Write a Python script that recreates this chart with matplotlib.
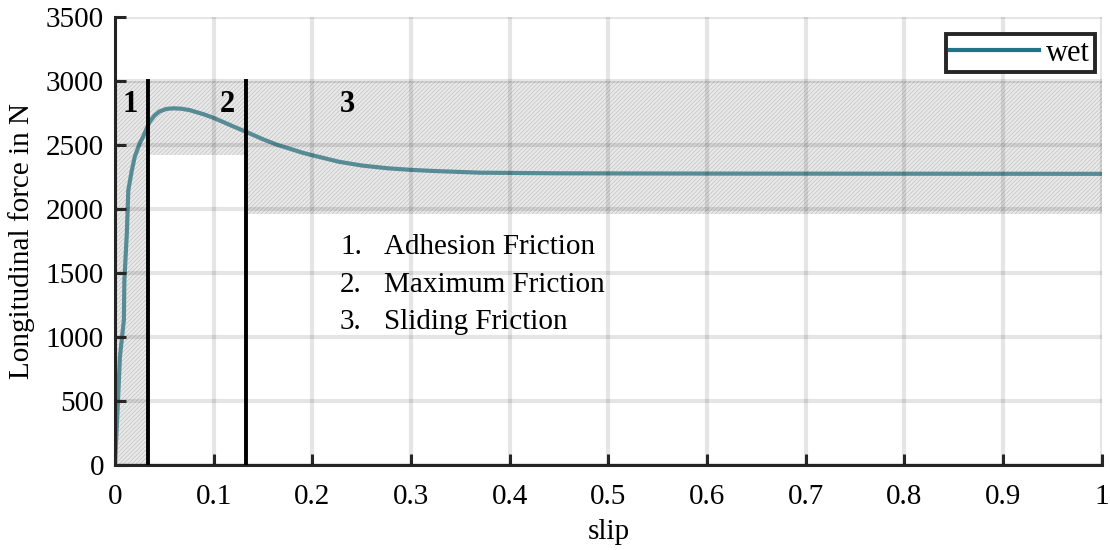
import matplotlib.pyplot as plt
import numpy as np

# wet curve
slip = [0, 0.003, 0.005, 0.009, 0.0095, 0.012, 0.0135, 0.017, 0.02, 0.025, 0.0285,
        0.035, 0.04, 0.045, 0.052, 0.059, 0.067, 0.0755, 0.09, 0.1, 0.109, 0.12,
        0.1326, 0.15, 0.165, 0.176, 0.19, 0.2, 0.215, 0.2266, 0.25, 0.277, 0.3,
        0.324, 0.37, 0.45, 0.6, 0.8, 1.0]
force = [0, 500, 846, 1133, 1445, 1812, 2148, 2300, 2408, 2513, 2565,
         2680, 2730, 2762, 2782, 2787, 2784, 2773, 2740, 2712, 2682, 2645,
         2604, 2545, 2500, 2474, 2440, 2420, 2392, 2370, 2340, 2318, 2306,
         2297, 2284, 2279, 2277, 2276, 2275]

# zones: (x start, x end, y low, y high)
zones = [(0, 0.033, 0, 3000), (0.033, 0.133, 2420, 3000), (0.133, 1.0, 1960, 3000)]
borders = [0.033, 0.133]
zone_labels = ["1", "2", "3"]
zone_label_x = [0.015, 0.114, 0.235]
legend_items = ["1.", "2.", "3."]
legend_texts = ["Adhesion Friction", "Maximum Friction", "Sliding Friction"]
legend_y = [1705, 1410, 1120]

xticks = np.arange(0, 1.01, 0.1)
xtick_labels = ["0", "0.1", "0.2", "0.3", "0.4", "0.5", "0.6", "0.7", "0.8", "0.9", "1"]
yticks = np.arange(0, 3501, 500)

plt.rcParams["font.family"] = ["Liberation Serif", "DejaVu Serif"]
plt.rcParams["hatch.linewidth"] = 0.5

fig = plt.figure(figsize=(11.1, 5.5), dpi=100)
ax = fig.add_axes([0.1036, 0.1545, 0.889, 0.8145])

line, = ax.plot(slip, force, color="#1f7585", lw=3, zorder=1, label="wet")

for x0, x1, y0, y1 in zones:
    ax.fill_between([x0, x1], y0, y1, facecolor=(0.75, 0.75, 0.75, 0.33),
                    edgecolor=(0.5, 0.5, 0.5, 0.38), hatch="////////",
                    linewidth=0, zorder=1.5)

for b in borders:
    ax.plot([b, b], [0, 3000], color="black", lw=2.8, zorder=3)

for lab, lx in zip(zone_labels, zone_label_x):
    ax.text(lx, 2820, lab, fontsize=22, fontweight="bold", ha="center", va="center", zorder=4)

for num, txt, ly in zip(legend_items, legend_texts, legend_y):
    ax.text(0.228, ly, num, fontsize=21, ha="left", va="center")
    ax.text(0.273, ly, txt, fontsize=21, ha="left", va="center")

ax.set_xlim(0, 1)
ax.set_ylim(0, 3500)
ax.set_xticks(xticks)
ax.set_xticklabels(xtick_labels)
ax.set_yticks(yticks)
ax.grid(True, color="black", alpha=0.1, lw=3)
ax.set_axisbelow(False)

for s in ["top", "right"]:
    ax.spines[s].set_visible(False)
for s in ["left", "bottom"]:
    ax.spines[s].set_color("#262626")
    ax.spines[s].set_linewidth(2.2)
ax.tick_params(direction="in", length=8, width=2.2, color="#262626",
               labelsize=21, pad=8)
ax.tick_params(axis="x", pad=14)

ax.set_xlabel("slip", fontsize=21, labelpad=6)
ax.set_ylabel("Longitudinal force in N", fontsize=21, labelpad=8)

leg = ax.legend(handles=[line], loc="upper right", fontsize=22, frameon=True,
                fancybox=False, handlelength=2.9, handletextpad=0.25,
                borderpad=0.15, borderaxespad=0,
                bbox_to_anchor=(0.993, 0.962))
leg.get_frame().set_edgecolor("#262626")
leg.get_frame().set_linewidth(2.8)
leg.get_frame().set_alpha(1)

fig.savefig("out.png", dpi=100)
